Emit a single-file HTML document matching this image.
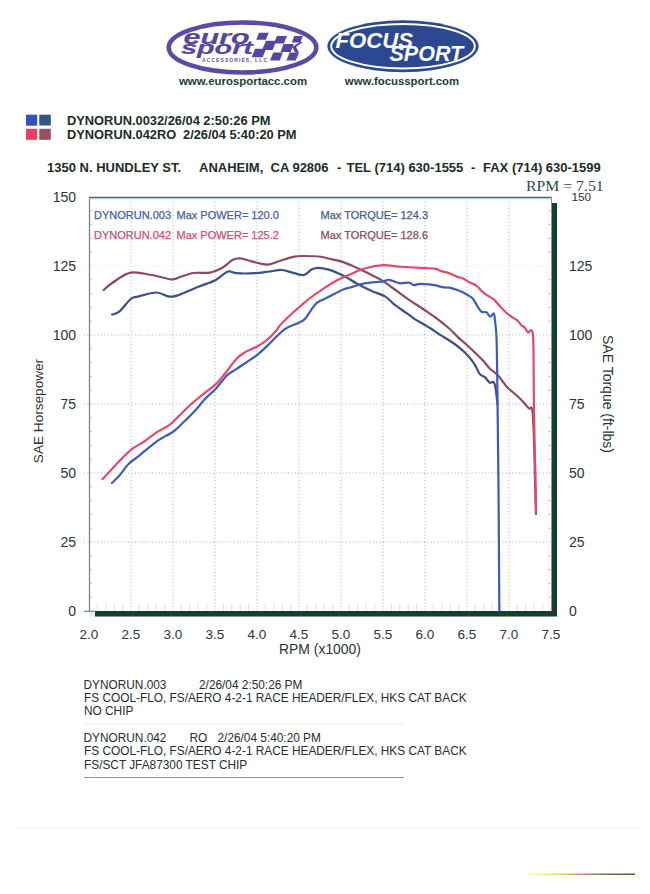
<!DOCTYPE html>
<html><head><meta charset="utf-8">
<style>
html,body{margin:0;padding:0;background:#fff;}
body{width:650px;height:894px;position:relative;overflow:hidden;font-family:"Liberation Sans",sans-serif;}
.t{position:absolute;white-space:pre;line-height:1;}
svg{position:absolute;left:0;top:0;} svg text{white-space:pre;}
</style></head><body>
<svg width="650" height="894" viewBox="0 0 650 894" font-family="Liberation Sans, sans-serif">
<!-- eurosport logo -->
<ellipse cx="242.5" cy="47.5" rx="73.8" ry="25" fill="#fff" stroke="#5b4ba3" stroke-width="4.6"/>
<g fill="#5746a0" stroke="#5746a0" stroke-width="0.15" font-weight="bold" font-style="italic">
<text transform="translate(183.5,43.5) scale(1.53,1)" font-size="20">euro</text>
<text transform="translate(181,53.8) scale(1.6,1)" font-size="18">sport</text>
</g>
<g fill="#5746a0"><polygon points="259.0,32.7 268.7,32.7 265.9,39.8 256.2,39.8"/><polygon points="276.9,36 287.0,36 284.0,43.6 273.9,43.6"/><polygon points="294.3,36 302.9,36 300.3,42.4 291.7,42.4"/><polygon points="265.9,40.7 276.4,40.7 272.6,50 262.1,50"/><polygon points="283.6,44 293.9,44 290.7,52 280.4,52"/><polygon points="255.1,48.7 266.1,48.7 262.7,57.2 251.7,57.2"/><polygon points="273.2,52.5 282.9,52.5 279.7,60.6 270.0,60.6"/><polygon points="289.6,52.5 299.0,52.5 295.8,60.6 286.4,60.6"/><polygon points="300,42 303,42 296,47 292.3,47"/><polygon points="292.3,47 296,47 299,52.5 295,52.5"/></g>
<text x="202" y="62" font-size="5" font-weight="bold" fill="#5b4ba3" textLength="65" lengthAdjust="spacing">ACCESSORIES, LLC</text>
<text x="243" y="85" font-size="11.4" font-weight="bold" fill="#1b3d30" text-anchor="middle">www.eurosportacc.com</text>
<!-- focus sport logo -->
<ellipse cx="403" cy="46.2" rx="75.6" ry="26" fill="#2b4890"/>
<ellipse cx="403" cy="46.2" rx="71.8" ry="22.2" fill="none" stroke="#fff" stroke-width="2"/>
<g fill="#fff" font-weight="bold" font-style="italic" font-size="21.5">
<text transform="translate(335.5,48.4) scale(1.03,1)">FOCUS</text>
<text transform="translate(389.5,61.4) scale(1.0,1)">SPORT</text>
</g>
<text x="402" y="85" font-size="11.35" font-weight="bold" fill="#1b3d30" text-anchor="middle">www.focussport.com</text>

<!-- legend squares -->
<rect x="26" y="114.7" width="11.2" height="11" fill="#3352c0"/>
<rect x="39.3" y="114.7" width="11.5" height="10.8" fill="#30578c"/>
<rect x="26" y="128.8" width="11.2" height="11" fill="#ec4062"/>
<rect x="39.3" y="128.8" width="11.5" height="11" fill="#98505c"/>
<g font-size="13" font-weight="bold" fill="#1c2c26">
<text x="67" y="125" font-size="12.85">DYNORUN.0032/26/04 2:50:26 PM</text>
<text x="67" y="139" font-size="12.85">DYNORUN.042RO</text><text x="183" y="139" font-size="12.85">2/26/04 5:40:20 PM</text>
<text x="47" y="172">1350 N. HUNDLEY ST.</text>
<text x="199" y="172">ANAHEIM,  CA 92806</text>
<text x="337" y="172">-</text>
<text x="346.5" y="172">TEL (714) 630-1555</text>
<text x="471" y="172">-</text>
<text x="483" y="172">FAX (714) 630-1599</text>
</g>

<!-- chart -->
<g stroke="#a8acac" stroke-width="1" stroke-dasharray="1,2.4" fill="none"><line x1="131" y1="198" x2="131" y2="611"/><line x1="173" y1="198" x2="173" y2="611"/><line x1="215" y1="198" x2="215" y2="611"/><line x1="257" y1="198" x2="257" y2="611"/><line x1="299" y1="198" x2="299" y2="611"/><line x1="341" y1="198" x2="341" y2="611"/><line x1="383" y1="198" x2="383" y2="611"/><line x1="425" y1="198" x2="425" y2="611"/><line x1="467" y1="198" x2="467" y2="611"/><line x1="509" y1="198" x2="509" y2="611"/></g>
<g stroke="#a8b8bc" stroke-width="1" stroke-dasharray="1,2.4" fill="none"><line x1="84" y1="542" x2="557" y2="542" stroke="#a8b0b0"/><line x1="84" y1="473" x2="557" y2="473" stroke="#a0acac"/><line x1="84" y1="404" x2="557" y2="404" stroke="#98b8bc"/><line x1="84" y1="335" x2="557" y2="335" stroke="#98c0c4"/><line x1="84" y1="266" x2="557" y2="266" stroke="#e0e4d8"/></g>
<g stroke="#c0c8c8" stroke-width="1"><line x1="89" y1="597.2" x2="92" y2="597.2"/><line x1="89" y1="583.4" x2="92" y2="583.4"/><line x1="89" y1="569.6" x2="92" y2="569.6"/><line x1="89" y1="555.8" x2="92" y2="555.8"/><line x1="89" y1="528.2" x2="92" y2="528.2"/><line x1="89" y1="514.4" x2="92" y2="514.4"/><line x1="89" y1="500.6" x2="92" y2="500.6"/><line x1="89" y1="486.8" x2="92" y2="486.8"/><line x1="89" y1="459.2" x2="92" y2="459.2"/><line x1="89" y1="445.4" x2="92" y2="445.4"/><line x1="89" y1="431.6" x2="92" y2="431.6"/><line x1="89" y1="417.8" x2="92" y2="417.8"/><line x1="89" y1="390.2" x2="92" y2="390.2"/><line x1="89" y1="376.4" x2="92" y2="376.4"/><line x1="89" y1="362.6" x2="92" y2="362.6"/><line x1="89" y1="348.8" x2="92" y2="348.8"/><line x1="89" y1="321.2" x2="92" y2="321.2"/><line x1="89" y1="307.4" x2="92" y2="307.4"/><line x1="89" y1="293.6" x2="92" y2="293.6"/><line x1="89" y1="279.8" x2="92" y2="279.8"/><line x1="89" y1="252.2" x2="92" y2="252.2"/><line x1="89" y1="238.4" x2="92" y2="238.4"/><line x1="89" y1="224.6" x2="92" y2="224.6"/><line x1="89" y1="210.8" x2="92" y2="210.8"/><line x1="548" y1="597.2" x2="552" y2="597.2"/><line x1="548" y1="583.4" x2="552" y2="583.4"/><line x1="548" y1="569.6" x2="552" y2="569.6"/><line x1="548" y1="555.8" x2="552" y2="555.8"/><line x1="548" y1="528.2" x2="552" y2="528.2"/><line x1="548" y1="514.4" x2="552" y2="514.4"/><line x1="548" y1="500.6" x2="552" y2="500.6"/><line x1="548" y1="486.8" x2="552" y2="486.8"/><line x1="548" y1="459.2" x2="552" y2="459.2"/><line x1="548" y1="445.4" x2="552" y2="445.4"/><line x1="548" y1="431.6" x2="552" y2="431.6"/><line x1="548" y1="417.8" x2="552" y2="417.8"/><line x1="548" y1="390.2" x2="552" y2="390.2"/><line x1="548" y1="376.4" x2="552" y2="376.4"/><line x1="548" y1="362.6" x2="552" y2="362.6"/><line x1="548" y1="348.8" x2="552" y2="348.8"/><line x1="548" y1="321.2" x2="552" y2="321.2"/><line x1="548" y1="307.4" x2="552" y2="307.4"/><line x1="548" y1="293.6" x2="552" y2="293.6"/><line x1="548" y1="279.8" x2="552" y2="279.8"/><line x1="548" y1="252.2" x2="552" y2="252.2"/><line x1="548" y1="238.4" x2="552" y2="238.4"/><line x1="548" y1="224.6" x2="552" y2="224.6"/><line x1="548" y1="210.8" x2="552" y2="210.8"/></g><g stroke="#d0d4d4" stroke-width="0.8"><line x1="97.4" y1="604" x2="97.4" y2="611"/><line x1="105.8" y1="604" x2="105.8" y2="611"/><line x1="114.2" y1="604" x2="114.2" y2="611"/><line x1="122.6" y1="604" x2="122.6" y2="611"/><line x1="139.4" y1="604" x2="139.4" y2="611"/><line x1="147.8" y1="604" x2="147.8" y2="611"/><line x1="156.2" y1="604" x2="156.2" y2="611"/><line x1="164.6" y1="604" x2="164.6" y2="611"/><line x1="181.4" y1="604" x2="181.4" y2="611"/><line x1="189.8" y1="604" x2="189.8" y2="611"/><line x1="198.2" y1="604" x2="198.2" y2="611"/><line x1="206.6" y1="604" x2="206.6" y2="611"/><line x1="223.4" y1="604" x2="223.4" y2="611"/><line x1="231.8" y1="604" x2="231.8" y2="611"/><line x1="240.2" y1="604" x2="240.2" y2="611"/><line x1="248.6" y1="604" x2="248.6" y2="611"/><line x1="265.4" y1="604" x2="265.4" y2="611"/><line x1="273.8" y1="604" x2="273.8" y2="611"/><line x1="282.2" y1="604" x2="282.2" y2="611"/><line x1="290.6" y1="604" x2="290.6" y2="611"/><line x1="307.4" y1="604" x2="307.4" y2="611"/><line x1="315.8" y1="604" x2="315.8" y2="611"/><line x1="324.2" y1="604" x2="324.2" y2="611"/><line x1="332.6" y1="604" x2="332.6" y2="611"/><line x1="349.4" y1="604" x2="349.4" y2="611"/><line x1="357.8" y1="604" x2="357.8" y2="611"/><line x1="366.2" y1="604" x2="366.2" y2="611"/><line x1="374.6" y1="604" x2="374.6" y2="611"/><line x1="391.4" y1="604" x2="391.4" y2="611"/><line x1="399.8" y1="604" x2="399.8" y2="611"/><line x1="408.2" y1="604" x2="408.2" y2="611"/><line x1="416.6" y1="604" x2="416.6" y2="611"/><line x1="433.4" y1="604" x2="433.4" y2="611"/><line x1="441.8" y1="604" x2="441.8" y2="611"/><line x1="450.2" y1="604" x2="450.2" y2="611"/><line x1="458.6" y1="604" x2="458.6" y2="611"/><line x1="475.4" y1="604" x2="475.4" y2="611"/><line x1="483.8" y1="604" x2="483.8" y2="611"/><line x1="492.2" y1="604" x2="492.2" y2="611"/><line x1="500.6" y1="604" x2="500.6" y2="611"/><line x1="517.4" y1="604" x2="517.4" y2="611"/><line x1="525.8" y1="604" x2="525.8" y2="611"/><line x1="534.2" y1="604" x2="534.2" y2="611"/><line x1="542.6" y1="604" x2="542.6" y2="611"/></g>
<line x1="89.5" y1="197" x2="89.5" y2="612" stroke="#7c8484" stroke-width="1.3"/>
<line x1="89" y1="197.5" x2="552" y2="197.5" stroke="#4a6a70" stroke-width="1.5"/>
<line x1="89" y1="198.8" x2="552" y2="198.8" stroke="#9ad8dc" stroke-width="1"/>
<line x1="551.5" y1="197" x2="551.5" y2="612" stroke="#8a9a98" stroke-width="1"/>
<rect x="552" y="203" width="5" height="413" fill="#173f2d"/>
<rect x="95" y="611" width="462" height="5.5" fill="#173f2d"/>
<rect x="89" y="611" width="6" height="5.5" fill="#dff4f4"/><line x1="84" y1="611.3" x2="96" y2="611.3" stroke="#6a7070" stroke-width="1"/>

<g font-size="11" fill="#4d5aa8" stroke="#4d5aa8" stroke-width="0.25">
<text x="94" y="218.7">DYNORUN.003</text><text x="176.5" y="218.7">Max POWER= 120.0</text>
<text x="320.5" y="218.7" fill="#4a5a8a" stroke="#4a5a8a">Max TORQUE= 124.3</text>
</g>
<g font-size="11" fill="#d34b72" stroke="#d34b72" stroke-width="0.25">
<text x="94" y="239.2">DYNORUN.042</text><text x="176.5" y="239.2">Max POWER= 125.2</text>
</g>
<g font-size="11" fill="#8a4a62" stroke="#8a4a62" stroke-width="0.25">
<text x="320.5" y="239.2">Max TORQUE= 128.6</text>
</g>

<g fill="none" stroke-width="2.2" stroke-linejoin="round" stroke-linecap="round">
<path d="M103.6,290.0 C105.0,288.8 107.7,285.9 112.2,283.0 C116.7,280.1 124.1,274.0 130.7,272.7 C137.3,271.4 144.8,273.9 151.6,275.0 C158.4,276.1 166.6,279.1 171.3,279.4 C176.0,279.7 176.3,278.1 180.0,277.0 C183.7,275.9 188.8,273.7 193.5,273.0 C198.2,272.3 204.6,273.2 208.3,272.8 C212.0,272.4 213.2,271.8 215.7,270.9 C218.2,270.0 220.2,269.0 223.1,267.2 C226.0,265.4 230.0,261.3 232.9,259.8 C235.8,258.3 237.6,258.3 240.3,258.4 C243.0,258.5 246.4,259.9 248.9,260.5 C251.4,261.1 253.2,261.8 255.1,262.3 C256.9,262.8 257.8,263.1 260.0,263.5 C262.2,263.9 265.1,265.0 268.4,264.6 C271.6,264.2 275.2,262.3 279.5,261.0 C283.8,259.7 290.1,257.5 294.2,256.7 C298.3,255.9 299.9,256.0 304.0,256.0 C308.1,256.0 314.3,256.0 318.8,256.5 C323.3,257.0 327.3,258.4 331.0,259.2 C334.7,260.0 337.3,260.2 341.0,261.4 C344.7,262.6 349.2,264.5 353.3,266.3 C357.4,268.1 361.1,269.8 365.6,272.0 C370.1,274.2 375.9,276.7 380.4,279.4 C384.9,282.1 387.8,284.5 392.7,288.0 C397.6,291.5 404.5,296.6 409.8,300.3 C415.1,304.0 420.1,306.9 424.6,310.0 C429.1,313.1 432.8,315.5 436.9,318.6 C441.0,321.7 445.7,325.4 449.2,328.5 C452.7,331.6 454.7,334.2 457.8,337.1 C460.9,340.0 463.6,341.9 467.7,345.7 C471.8,349.5 478.6,356.0 482.3,359.8 C486.0,363.6 487.0,365.8 489.7,368.5 C492.4,371.2 495.4,372.7 498.3,375.8 C501.2,378.9 503.8,383.6 506.9,386.9 C510.0,390.2 513.9,392.8 516.8,395.5 C519.7,398.2 522.2,400.7 524.2,402.9 C526.2,405.1 527.9,407.7 529.1,408.5 C530.3,409.3 530.9,406.9 531.5,407.8 C532.1,408.7 532.4,408.6 532.8,414.0 C533.2,419.4 533.6,429.0 534.0,440.0 C534.4,451.0 534.7,467.7 535.0,480.0 C535.3,492.3 535.8,508.3 536.0,514.0" stroke="#8c4a5c"/>
<path d="M112.2,314.6 C113.4,314.1 116.5,314.0 119.6,311.4 C122.7,308.8 127.6,301.5 130.7,299.0 C133.8,296.5 133.7,297.7 138.0,296.6 C142.3,295.5 151.3,292.5 156.5,292.5 C161.7,292.5 165.5,296.1 169.0,296.6 C172.5,297.1 172.6,297.0 177.5,295.4 C182.4,293.8 192.0,289.4 198.4,286.8 C204.8,284.2 210.8,282.6 215.7,280.0 C220.6,277.4 224.5,272.6 228.0,271.5 C231.5,270.4 232.1,272.9 236.6,273.2 C241.1,273.5 249.5,273.5 255.0,273.2 C260.5,272.9 265.1,272.0 269.6,271.5 C274.1,271.0 277.9,269.7 282.0,270.0 C286.1,270.3 290.5,272.4 294.2,273.2 C297.9,274.0 301.1,275.6 304.0,275.0 C306.9,274.4 309.2,270.8 311.5,269.6 C313.8,268.4 314.7,267.8 317.6,267.8 C320.5,267.8 324.4,268.3 328.7,269.6 C333.0,270.9 339.0,273.5 343.5,275.7 C348.0,277.9 351.3,280.5 355.8,283.0 C360.3,285.5 365.7,288.2 370.6,290.5 C375.5,292.8 381.3,294.2 385.4,296.6 C389.5,299.1 391.5,302.4 395.2,305.2 C398.9,308.0 404.1,311.4 407.4,313.7 C410.7,316.0 411.9,317.3 414.8,319.2 C417.7,321.1 421.9,323.2 424.6,324.8 C427.3,326.4 428.1,326.8 430.8,328.5 C433.5,330.2 437.1,332.9 440.6,335.2 C444.1,337.4 448.2,339.6 451.7,342.0 C455.2,344.4 458.6,346.9 461.5,349.4 C464.4,351.9 466.7,354.2 468.9,356.8 C471.1,359.4 473.1,361.9 474.9,364.8 C476.7,367.7 478.1,371.9 479.8,374.0 C481.5,376.1 483.2,375.7 484.8,377.1 C486.4,378.5 488.3,381.8 489.7,382.6 C491.1,383.4 492.5,381.4 493.4,382.0 C494.3,382.6 494.7,383.7 495.2,386.0 C495.7,388.3 496.2,393.0 496.6,396.0 C497.0,399.0 497.3,402.7 497.4,404.0" stroke="#3c5088"/>
<path d="M102.4,479.2 C103.7,477.8 107.5,473.9 110.4,470.8 C113.3,467.7 116.0,464.4 119.6,460.8 C123.2,457.2 127.8,452.4 131.9,449.2 C136.0,446.0 140.1,444.3 144.2,441.5 C148.3,438.7 152.4,435.0 156.5,432.3 C160.6,429.6 165.2,428.0 168.8,425.4 C172.4,422.8 174.9,419.8 178.0,416.9 C181.1,413.9 184.5,410.4 187.3,407.7 C190.1,405.0 192.0,403.4 195.0,400.8 C198.0,398.2 202.0,395.0 205.4,392.3 C208.8,389.6 212.1,387.8 215.4,384.6 C218.7,381.4 221.9,377.2 225.4,373.0 C228.9,368.8 233.1,362.5 236.2,359.2 C239.3,355.9 240.2,355.2 243.8,353.0 C247.4,350.8 253.8,348.4 257.7,346.2 C261.5,344.0 263.8,342.6 266.9,340.0 C270.0,337.4 274.0,333.2 276.2,330.8 C278.4,328.4 277.4,328.2 279.8,325.5 C282.2,322.8 287.4,317.8 290.9,314.5 C294.4,311.2 297.7,308.5 300.8,305.8 C303.9,303.1 305.9,301.2 309.4,298.5 C312.9,295.8 317.0,292.9 321.7,289.8 C326.4,286.7 332.6,282.7 337.7,280.0 C342.8,277.3 347.8,275.3 352.3,273.4 C356.8,271.5 359.5,269.9 364.6,268.5 C369.7,267.1 377.4,265.5 383.1,265.2 C388.8,264.9 392.9,266.2 399.0,266.6 C405.1,267.0 414.0,267.5 420.0,267.8 C426.0,268.1 431.3,268.1 434.8,268.6 C438.3,269.2 438.6,270.4 440.9,271.1 C443.1,271.8 445.6,272.0 448.3,272.9 C451.0,273.8 454.4,275.7 456.9,276.6 C459.4,277.5 461.1,277.6 463.1,278.5 C465.2,279.4 466.9,281.0 469.2,282.2 C471.4,283.4 474.6,284.4 476.6,285.8 C478.7,287.2 479.6,289.2 481.5,290.8 C483.4,292.4 485.6,294.3 487.7,295.7 C489.8,297.1 491.8,297.7 493.8,299.4 C495.8,301.1 497.7,303.9 499.7,306.0 C501.7,308.1 503.8,310.3 505.8,312.2 C507.9,314.1 510.1,315.8 512.0,317.1 C513.9,318.4 515.3,318.8 516.9,320.2 C518.5,321.6 520.6,324.6 521.8,325.7 C523.0,326.8 523.3,325.8 524.3,326.9 C525.3,328.0 526.9,332.0 528.0,332.5 C529.1,333.0 530.3,329.7 531.1,330.0 C531.9,330.3 532.5,331.0 532.9,334.3 C533.3,337.6 533.3,337.4 533.5,350.0 C533.7,362.6 533.7,388.3 534.0,410.0 C534.3,431.7 535.2,463.0 535.5,480.0 C535.8,497.0 535.9,506.7 536.0,512.0" stroke="#e24a6c"/>
<path d="M111.9,483.0 C113.2,481.7 116.8,478.6 119.6,475.4 C122.4,472.2 125.5,467.1 128.8,463.8 C132.1,460.5 135.5,458.7 139.6,455.4 C143.7,452.1 149.9,446.6 153.5,443.8 C157.1,441.0 157.9,440.6 161.2,438.5 C164.5,436.4 169.9,434.1 173.5,431.5 C177.1,428.9 179.1,426.4 182.7,423.0 C186.3,419.6 191.2,414.9 195.0,410.8 C198.8,406.7 202.0,402.1 205.4,398.5 C208.8,394.9 211.8,393.1 215.4,389.2 C219.0,385.3 223.4,378.7 226.9,375.4 C230.4,372.1 232.6,371.6 236.2,369.2 C239.8,366.8 244.9,363.2 248.5,360.8 C252.1,358.4 254.4,357.3 257.7,354.6 C261.0,351.9 264.0,348.8 268.5,344.6 C273.0,340.4 279.8,332.8 284.8,329.2 C289.8,325.6 295.0,324.6 298.3,323.0 C301.6,321.4 302.4,321.4 304.5,319.4 C306.6,317.4 308.6,313.6 310.6,310.8 C312.7,308.0 314.3,304.9 316.8,302.8 C319.3,300.8 322.3,300.1 325.4,298.5 C328.5,296.9 332.1,295.1 335.2,293.5 C338.3,291.9 340.9,290.3 343.8,289.2 C346.7,288.1 348.8,287.9 352.3,286.9 C355.8,285.9 359.5,284.3 364.6,283.4 C369.7,282.5 379.0,282.0 383.1,281.4 C387.2,280.8 386.6,279.5 389.2,279.8 C391.8,280.1 395.7,282.7 399.0,283.2 C402.3,283.7 406.4,282.3 408.9,282.6 C411.4,282.9 411.9,284.9 413.8,285.1 C415.7,285.3 416.5,283.8 420.0,283.8 C423.5,283.8 431.1,284.6 434.8,285.2 C438.5,285.8 439.8,286.7 442.2,287.1 C444.6,287.5 446.6,287.1 449.5,287.7 C452.4,288.3 456.5,289.7 459.4,290.8 C462.3,291.9 464.6,293.2 466.8,294.5 C469.1,295.8 471.1,296.8 472.9,298.8 C474.7,300.9 476.4,304.7 477.8,306.8 C479.2,308.9 480.1,310.8 481.5,311.7 C482.9,312.6 485.1,311.5 486.5,312.3 C487.9,313.1 489.0,316.4 490.2,316.6 C491.4,316.8 493.0,312.8 493.8,313.5 C494.6,314.2 494.5,316.6 495.0,321.0 C495.5,325.4 496.2,326.8 496.6,340.0 C497.0,353.2 497.2,373.3 497.5,400.0 C497.8,426.7 498.3,464.9 498.6,500.0 C498.9,535.1 499.2,592.1 499.3,610.5" stroke="#3d5cb8"/>
</g>

<g font-size="14" fill="#2a3636"><text x="76" y="616" text-anchor="end">0</text><text x="76" y="547" text-anchor="end">25</text><text x="76" y="478" text-anchor="end">50</text><text x="76" y="409" text-anchor="end">75</text><text x="76" y="340" text-anchor="end">100</text><text x="76" y="271" text-anchor="end">125</text><text x="76" y="202" text-anchor="end">150</text></g>
<g font-size="14" fill="#2a3636"><text x="569" y="616">0</text><text x="569" y="547">25</text><text x="569" y="478">50</text><text x="569" y="409">75</text><text x="569" y="340">100</text><text x="569" y="271">125</text><text x="571.5" y="200.6" font-size="11.8">150</text></g>
<g font-size="13.5" fill="#2a3636"><text x="89" y="639" text-anchor="middle">2.0</text><text x="131" y="639" text-anchor="middle">2.5</text><text x="173" y="639" text-anchor="middle">3.0</text><text x="215" y="639" text-anchor="middle">3.5</text><text x="257" y="639" text-anchor="middle">4.0</text><text x="299" y="639" text-anchor="middle">4.5</text><text x="341" y="639" text-anchor="middle">5.0</text><text x="383" y="639" text-anchor="middle">5.5</text><text x="425" y="639" text-anchor="middle">6.0</text><text x="467" y="639" text-anchor="middle">6.5</text><text x="509" y="639" text-anchor="middle">7.0</text><text x="551" y="639" text-anchor="middle">7.5</text></g>
<text x="320" y="654" font-size="13.9" fill="#2a3636" text-anchor="middle">RPM (x1000)</text>
<text transform="translate(42.5,411) rotate(-90)" font-size="13.6" fill="#2a3636" text-anchor="middle">SAE Horsepower</text>
<text transform="translate(602.5,394) rotate(90)" font-size="14" fill="#2a3636" text-anchor="middle">SAE Torque (ft-lbs)</text>
<text transform="translate(526,191) scale(1.16,1)" font-size="13.6" font-family="Liberation Serif, serif" fill="#2d4a48">RPM = 7.51</text>

<!-- bottom notes -->
<g font-size="11.85" fill="#262e2e">
<text x="83.5" y="688.5">DYNORUN.003</text><text x="199" y="688.5">2/26/04 2:50:26 PM</text>
<text x="84" y="701.5">FS COOL-FLO, FS/AERO 4-2-1 RACE HEADER/FLEX, HKS CAT BACK</text>
<text x="84" y="715">NO CHIP</text>
<text x="83.5" y="741.5">DYNORUN.042</text><text x="189.5" y="741.5">RO</text><text x="217.5" y="741.5">2/26/04 5:40:20 PM</text>
<text x="84" y="755">FS COOL-FLO, FS/AERO 4-2-1 RACE HEADER/FLEX, HKS CAT BACK</text>
<text x="84" y="768.5">FS/SCT JFA87300 TEST CHIP</text>
</g>
<line x1="84" y1="724" x2="404" y2="724" stroke="#f2eed4" stroke-width="1"/>
<line x1="84" y1="777.5" x2="404" y2="777.5" stroke="#8c9498" stroke-width="1"/>
<line x1="15" y1="827.5" x2="640" y2="827.5" stroke="#eef6f8" stroke-width="1"/>
<defs><linearGradient id="og" x1="0" x2="1"><stop offset="0" stop-color="#fff8c0"/><stop offset="0.3" stop-color="#e8d860"/><stop offset="0.5" stop-color="#d88880"/><stop offset="0.75" stop-color="#707040"/><stop offset="1" stop-color="#506030"/></linearGradient></defs>
<rect x="528" y="873.5" width="107" height="1.5" fill="url(#og)"/>
</svg>
</body></html>
